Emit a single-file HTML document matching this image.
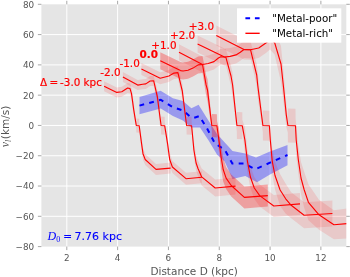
<!DOCTYPE html>
<html><head><meta charset="utf-8"><title>plot</title>
<style>
html,body{margin:0;padding:0;background:#fff;}
body{width:350px;height:277px;overflow:hidden;}
svg{display:block;}
text{font-family:"DejaVu Sans","Liberation Sans",sans-serif;}
.tk{font-size:8.8px;fill:#555;}
.m{font-family:"Liberation Serif","DejaVu Serif",serif;font-style:italic;}
</style></head><body>
<svg width="350" height="277" viewBox="0 0 350 277">
<rect width="350" height="277" fill="#fff"/>
<rect x="41.4" y="4.3" width="304.9" height="242.3" fill="#e5e5e5"/>
<path d="M66.81 4.3V246.6M117.62 4.3V246.6M168.44 4.3V246.6M219.26 4.3V246.6M270.08 4.3V246.6M320.89 4.3V246.6M41.4 216.31H346.3M41.4 186.02H346.3M41.4 155.74H346.3M41.4 125.45H346.3M41.4 95.16H346.3M41.4 64.88H346.3M41.4 34.59H346.3" stroke="#fff" stroke-width="1" fill="none"/>
<clipPath id="c"><rect x="41.4" y="4.3" width="304.9" height="242.3"/></clipPath>
<g clip-path="url(#c)">
<polygon points="139.5,97.1 160.6,90.8 172.9,98.2 182.9,101.0 191.4,108.2 198.6,104.7 207.0,118.2 217.0,133.9 228.0,145.9 232.5,151.1 245.3,153.4 256.0,157.6 270.0,151.4 287.5,145.0 287.5,165.3 270.0,174.4 257.0,182.2 245.3,175.9 232.5,178.9 224.7,161.6 217.1,154.7 208.6,140.4 200.0,127.5 191.4,127.5 182.9,120.4 172.9,116.1 160.8,108.6 139.5,114.2" fill="#0000ff" fill-opacity="0.33"/>
<polygon points="104.1,81.2 116.8,87.4 121.8,86.7 127.6,83.0 130.0,83.6 131.5,87.7 133.7,102.6 136.2,122.6 136.3,118.5 139.2,118.8 139.2,122.9 141.6,136.9 143.0,147.7 145.2,154.0 156.0,163.9 170.6,162.6 170.6,173.6 156.0,174.9 145.2,165.0 143.0,159.7 141.6,150.9 139.2,128.7 139.2,132.8 136.3,132.5 136.2,128.4 133.7,116.6 131.5,99.7 130.0,93.6 127.6,93.0 121.8,96.7 116.8,97.4 104.1,91.2" fill="#ff0000" fill-opacity="0.12"/>
<polygon points="122.9,72.1 137.7,80.1 142.7,79.3 145.8,78.9 150.1,76.0 153.7,75.9 157.4,90.0 159.7,106.0 161.0,121.7 161.1,116.5 164.7,116.8 164.8,122.0 167.6,135.9 169.7,153.0 172.4,161.0 186.0,172.7 201.8,171.2 201.8,183.2 186.0,184.7 172.4,173.0 169.7,166.0 167.6,151.9 164.8,129.6 164.7,134.8 161.1,134.5 161.0,129.3 159.7,124.0 157.4,104.0 153.7,85.9 150.1,86.0 145.8,88.9 142.7,89.3 137.7,90.1 122.9,82.1" fill="#ff0000" fill-opacity="0.12"/>
<polygon points="141.4,63.1 160.2,72.2 168.9,70.0 174.0,67.1 177.9,66.6 182.3,83.0 186.5,121.7 186.6,116.5 191.6,116.8 191.7,122.0 193.9,142.0 196.1,155.5 198.0,160.5 201.7,168.4 215.2,179.5 235.5,177.6 235.5,194.6 215.2,196.5 201.7,185.4 198.0,176.5 196.1,170.5 193.9,158.0 191.7,129.6 191.6,134.8 186.6,134.5 186.5,129.3 182.3,99.0 177.9,78.6 174.0,79.1 168.9,82.0 160.2,84.2 141.4,75.1" fill="#ff0000" fill-opacity="0.12"/>
<polygon points="160.3,52.2 180.5,62.1 183.0,62.5 188.0,61.8 193.0,59.6 198.1,56.4 202.5,56.0 206.1,74.9 207.5,79.0 211.8,120.6 211.8,113.9 216.9,114.2 217.0,120.9 218.9,128.0 221.1,145.0 223.2,157.5 226.1,167.1 231.2,174.5 244.4,186.4 267.8,184.6 267.8,206.6 244.4,208.4 231.2,196.5 226.1,189.1 223.2,181.5 221.1,169.0 218.9,152.0 217.0,130.7 216.9,137.4 211.8,137.1 211.8,130.4 207.5,101.0 206.1,94.9 202.5,73.0 198.1,73.4 193.0,76.6 188.0,78.8 183.0,79.5 180.5,79.1 160.3,69.2" fill="#ff0000" fill-opacity="0.3"/>
<polygon points="179.0,44.3 202.5,56.5 208.2,55.5 214.0,53.6 218.4,50.0 220.8,48.7 225.9,49.3 231.0,66.0 232.6,73.0 236.8,119.8 236.9,112.0 242.3,112.3 242.4,120.1 244.9,127.0 247.5,149.7 250.4,166.0 254.3,177.0 259.7,184.6 273.8,195.0 300.0,192.9 300.0,214.9 273.8,217.0 259.7,206.6 254.3,199.0 250.4,188.0 247.5,173.7 244.9,153.0 242.4,131.5 242.3,139.3 236.9,139.0 236.8,131.2 232.6,97.0 231.0,86.0 225.9,65.3 220.8,64.7 218.4,66.0 214.0,69.6 208.2,71.5 202.5,72.5 179.0,60.3" fill="#ff0000" fill-opacity="0.12"/>
<polygon points="197.6,35.5 224.5,48.5 230.2,47.9 236.0,46.4 240.3,43.8 244.0,41.0 250.5,41.2 256.7,64.0 257.7,72.0 262.8,119.2 262.9,110.5 269.4,110.8 269.4,119.5 270.3,126.0 272.3,148.7 275.0,161.5 280.1,174.0 285.7,183.8 291.2,192.3 304.1,202.3 332.4,200.5 332.4,226.5 304.1,228.3 291.2,218.3 285.7,213.8 280.1,206.0 275.0,189.5 272.3,174.7 270.3,154.0 269.4,132.1 269.4,140.8 262.9,140.5 262.8,131.8 257.7,98.0 256.7,86.0 250.5,58.2 244.0,58.0 240.3,60.8 236.0,63.4 230.2,64.9 224.5,65.5 197.6,52.5" fill="#ff0000" fill-opacity="0.12"/>
<polygon points="216.3,25.6 244.0,39.5 250.5,39.7 258.7,38.0 265.9,33.0 270.0,29.5 274.6,30.5 281.0,46.0 283.6,73.0 286.3,103.0 287.8,118.4 287.9,108.5 295.5,108.8 295.6,118.7 296.2,124.0 298.3,145.5 301.0,162.0 304.1,171.5 308.4,184.3 319.0,199.8 333.9,210.3 347.0,208.6 347.0,238.6 333.9,239.3 319.0,229.8 308.4,220.3 304.1,207.5 301.0,194.0 298.3,173.5 296.2,156.0 295.6,132.9 295.5,142.8 287.9,142.5 287.8,132.6 286.3,127.0 283.6,103.0 281.0,82.0 274.6,54.5 270.0,49.5 265.9,53.0 258.7,58.0 250.5,59.7 244.0,59.5 216.3,45.6" fill="#ff0000" fill-opacity="0.12"/>
<polyline points="139.5,105.6 160.8,99.8 172.9,107.1 183.0,110.5 191.2,117.5 195.2,117.5 199.4,116.0 207.1,128.6 215.0,143.5 224.7,149.7 232.3,163.4 243.6,163.4 255.4,169.2 270.0,162.7 287.5,155.0" fill="none" stroke="#0000ff" stroke-width="2" stroke-dasharray="4.8 5.3"/>
<polyline points="104.1,86.2 116.8,92.4 121.8,91.7 127.6,88.0 130.0,88.6 131.5,93.7 133.7,109.6 136.3,125.5 139.2,125.8 141.6,143.9 143.0,153.7 145.2,159.5 156.0,169.4 170.6,168.1" fill="none" stroke="#ff0000" stroke-width="1.12" stroke-linejoin="round"/>
<polyline points="122.9,77.1 137.7,85.1 142.7,84.3 145.8,83.9 150.1,81.0 153.7,80.9 157.4,97.0 159.7,115.0 161.1,125.5 164.7,125.8 167.6,143.9 169.7,159.5 172.4,167.0 186.0,178.7 201.8,177.2" fill="none" stroke="#ff0000" stroke-width="1.12" stroke-linejoin="round"/>
<polyline points="141.4,69.1 160.2,78.2 168.9,76.0 174.0,73.1 177.9,72.6 182.3,91.0 186.6,125.5 191.6,125.8 193.9,150.0 196.1,163.0 198.0,168.5 201.7,176.9 215.2,188.0 235.5,186.1" fill="none" stroke="#ff0000" stroke-width="1.12" stroke-linejoin="round"/>
<polyline points="160.3,60.7 180.5,70.6 183.0,71.0 188.0,70.3 193.0,68.1 198.1,64.9 202.5,64.5 206.1,84.9 207.5,90.0 211.8,125.5 216.9,125.8 218.9,140.0 221.1,157.0 223.2,169.5 226.1,178.1 231.2,185.5 244.4,197.4 267.8,195.6" fill="none" stroke="#ff0000" stroke-width="1.12" stroke-linejoin="round"/>
<polyline points="179.0,52.3 202.5,64.5 208.2,63.5 214.0,61.6 218.4,58.0 220.8,56.7 225.9,57.3 231.0,76.0 232.6,85.0 236.9,125.5 242.3,125.8 244.9,140.0 247.5,161.7 250.4,177.0 254.3,188.0 259.7,195.6 273.8,206.0 300.0,203.9" fill="none" stroke="#ff0000" stroke-width="1.12" stroke-linejoin="round"/>
<polyline points="197.6,44.0 224.5,57.0 230.2,56.4 236.0,54.9 240.3,52.3 244.0,49.5 250.5,49.7 256.7,75.0 257.7,85.0 262.9,125.5 269.4,125.8 270.3,140.0 272.3,161.7 275.0,175.5 280.1,190.0 285.7,198.8 291.2,205.3 304.1,215.3 332.4,213.5" fill="none" stroke="#ff0000" stroke-width="1.12" stroke-linejoin="round"/>
<polyline points="216.3,35.6 244.0,49.5 250.5,49.7 258.7,48.0 265.9,43.0 270.0,39.5 274.6,42.5 281.0,64.0 283.6,88.0 286.3,115.0 287.9,125.5 295.5,125.8 296.2,140.0 298.3,159.5 301.0,178.0 304.1,189.5 308.4,202.3 319.0,214.8 333.9,224.8 347.0,223.6" fill="none" stroke="#ff0000" stroke-width="1.12" stroke-linejoin="round"/>
</g>
<path d="M66.81 246.6v3.5M66.81 4.3v-3.5M117.62 246.6v3.5M117.62 4.3v-3.5M168.44 246.6v3.5M168.44 4.3v-3.5M219.26 246.6v3.5M219.26 4.3v-3.5M270.08 246.6v3.5M270.08 4.3v-3.5M320.89 246.6v3.5M320.89 4.3v-3.5M41.4 246.60h-3.5M346.3 246.60h3.5M41.4 216.31h-3.5M346.3 216.31h3.5M41.4 186.02h-3.5M346.3 186.02h3.5M41.4 155.74h-3.5M346.3 155.74h3.5M41.4 125.45h-3.5M346.3 125.45h3.5M41.4 95.16h-3.5M346.3 95.16h3.5M41.4 64.88h-3.5M346.3 64.88h3.5M41.4 34.59h-3.5M346.3 34.59h3.5M41.4 4.30h-3.5M346.3 4.30h3.5" stroke="#777" stroke-width="0.65" fill="none"/>
<text class="tk" x="66.8" y="260.7" text-anchor="middle">2</text>
<text class="tk" x="117.6" y="260.7" text-anchor="middle">4</text>
<text class="tk" x="168.4" y="260.7" text-anchor="middle">6</text>
<text class="tk" x="219.3" y="260.7" text-anchor="middle">8</text>
<text class="tk" x="270.1" y="260.7" text-anchor="middle">10</text>
<text class="tk" x="320.9" y="260.7" text-anchor="middle">12</text>
<text class="tk" x="34.2" y="249.9" text-anchor="end">−80</text>
<text class="tk" x="34.2" y="219.6" text-anchor="end">−60</text>
<text class="tk" x="34.2" y="189.3" text-anchor="end">−40</text>
<text class="tk" x="34.2" y="159.0" text-anchor="end">−20</text>
<text class="tk" x="34.2" y="128.8" text-anchor="end">0</text>
<text class="tk" x="34.2" y="98.5" text-anchor="end">20</text>
<text class="tk" x="34.2" y="68.2" text-anchor="end">40</text>
<text class="tk" x="34.2" y="37.9" text-anchor="end">60</text>
<text class="tk" x="34.2" y="7.6" text-anchor="end">80</text>
<text x="194.1" y="274.6" text-anchor="middle" font-size="10.5" fill="#555">Distance D (kpc)</text>
<text transform="translate(8.8,126.5) rotate(-90)" text-anchor="middle" font-size="10.5" fill="#555"><tspan class="m" font-size="12">v</tspan><tspan class="m" font-size="8" dy="2">l</tspan><tspan dy="-2" dx="0.5">(km/s)</tspan></text>
<rect x="237" y="8.3" width="104.3" height="34.4" fill="#fff"/>
<path d="M245.4 18.2h4.7m4.8 0h4.7" stroke="#0000ff" stroke-width="2" fill="none"/>
<path d="M245.4 33.3h14.3" stroke="#ff0000" stroke-width="1.35" fill="none"/>
<text x="272.2" y="21.9" font-size="10.3" fill="#000">"Metal-poor"</text>
<text x="272.2" y="37" font-size="10.3" fill="#000">"Metal-rich"</text>
<text x="40.1" y="85.5" font-size="10.4" fill="#ff0000" stroke="#ff0000" stroke-width="0.18">Δ<tspan dx="2.2">=</tspan><tspan dx="1.9">-3.0 kpc</tspan></text>
<text x="100.3" y="75.8" font-size="10.4" fill="#ff0000" stroke="#ff0000" stroke-width="0.18" font-weight="normal">-2.0</text>
<text x="119.5" y="67.3" font-size="10.4" fill="#ff0000" stroke="#ff0000" stroke-width="0.18" font-weight="normal">-1.0</text>
<text x="139.5" y="58" font-size="10.4" fill="#ff0000" stroke="#ff0000" stroke-width="0.18" font-weight="bold">0.0</text>
<text x="151.3" y="49" font-size="10.4" fill="#ff0000" stroke="#ff0000" stroke-width="0.18" font-weight="normal">+1.0</text>
<text x="170" y="39.3" font-size="10.4" fill="#ff0000" stroke="#ff0000" stroke-width="0.18" font-weight="normal">+2.0</text>
<text x="188.8" y="30" font-size="10.4" fill="#ff0000" stroke="#ff0000" stroke-width="0.18" font-weight="normal">+3.0</text>
<text y="240" font-size="11" fill="#0000ff"><tspan class="m" x="47.6" font-size="12">D</tspan><tspan font-family="Liberation Serif,serif" font-size="8" dy="2">0</tspan><tspan dy="-2" x="63.1">=</tspan><tspan x="74.6" stroke="#0000ff" stroke-width="0.12">7.76 kpc</tspan></text>
</svg></body></html>
